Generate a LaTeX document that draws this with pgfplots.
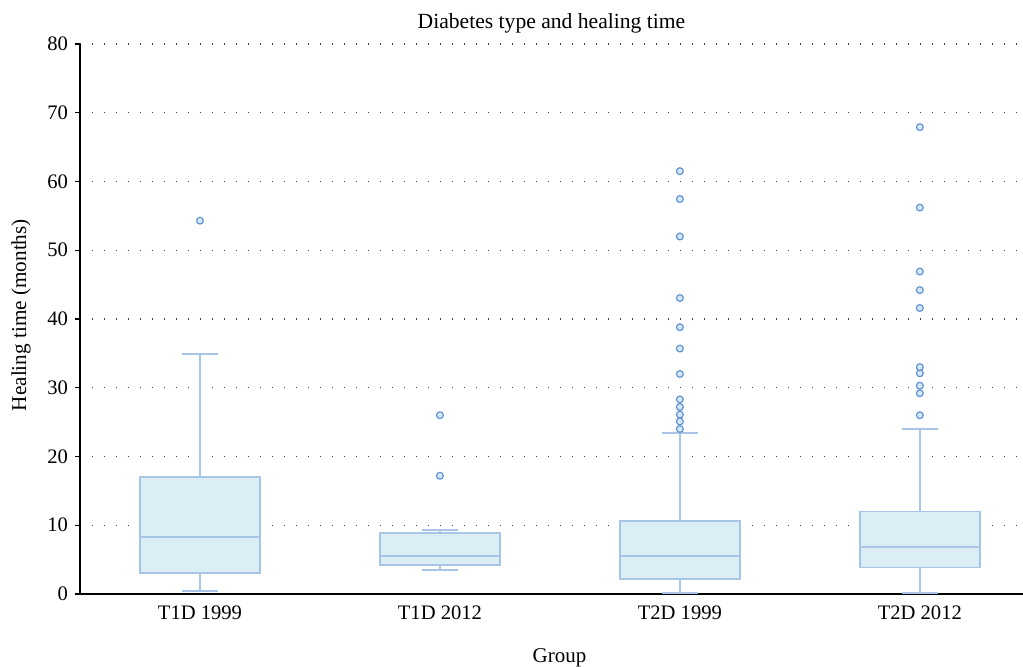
\documentclass[border=0pt]{standalone}
\usepackage{fontspec}
\setmainfont{Liberation Serif}
\usepackage{pgfplots}
\pgfplotsset{compat=1.18}
\usepgfplotslibrary{statistics}
\definecolor{boxedge}{RGB}{168,197,232}
\definecolor{boxfill}{RGB}{219,238,246}
\definecolor{outl}{RGB}{95,148,212}
\definecolor{outfill}{RGB}{214,232,247}

\begin{document}
\begin{tikzpicture}
\useasboundingbox (-40pt,-36.5pt) rectangle (471.5pt,297pt);
\begin{axis}[
  at={(0,0)}, anchor=south west,
  scale only axis, width=471.5pt, height=275pt,
  xmin=-0.5, xmax=3.43, ymin=0, ymax=80,
  axis x line*=bottom, axis y line*=left,
  axis line style={black, line width=0.8pt},
  xtick={0,1,2,3},
  xticklabels={T1D 1999, T1D 2012, T2D 1999, T2D 2012},
  ytick={0,10,...,80},
  x tick style={draw=none},
  y tick style={black, line width=0.6pt},
  tick align=outside, major tick length=2.5pt,
  ymajorgrids,
  grid style={black!75, line width=0.6pt, dash pattern=on 0.6pt off 5.4pt},
  tick label style={font=\fontsize{10.3}{12}\selectfont},
  /pgf/number format/assume math mode=true,
  title={Diabetes type and healing time},
  title style={font=\fontsize{10.8}{12}\selectfont, at={(0.5,1)}, anchor=center, yshift=4.5pt},
  xlabel={Group},
  every axis x label/.style={at={(axis description cs:0.5,0)}, anchor=center,
    xshift=4pt, yshift=-32pt, font=\fontsize{10.5}{12}\selectfont},
  every axis y label/.style={at={(axis description cs:-0.0626,0.507)}, rotate=90,
    anchor=center, font=\fontsize{10.6}{12}\selectfont},
  ylabel={Healing time (months)},
  boxplot/draw direction=y,
  boxplot/every box/.style={draw=boxedge, fill=boxfill, line width=0.8pt},
  boxplot/every whisker/.style={draw=boxedge, line width=0.8pt},
  boxplot/every median/.style={draw=boxedge, line width=0.8pt},
  cycle list={{boxedge}},
  clip=false,
]

% T1D 1999
\addplot[boxplot prepared={draw position=0, box extend=0.5, whisker extend=0.15,
    lower whisker=0.44, lower quartile=3.05, median=8.3,
    upper quartile=17.0, upper whisker=34.9},
  draw=boxedge, fill=boxfill, line width=0.8pt,
  mark=*, mark size=1.7pt, mark options={draw=outl, fill=outfill, line width=0.6pt}]
  coordinates {(0,54.3)};

% T1D 2012
\addplot[boxplot prepared={draw position=1, box extend=0.5, whisker extend=0.15,
    lower whisker=3.5, lower quartile=4.22, median=5.53,
    upper quartile=8.87, upper whisker=9.3},
  draw=boxedge, fill=boxfill, line width=0.8pt,
  mark=*, mark size=1.7pt, mark options={draw=outl, fill=outfill, line width=0.6pt}]
  coordinates {(1,17.2) (1,26.0)};

% T2D 1999
\addplot[boxplot prepared={draw position=2, box extend=0.5, whisker extend=0.15,
    lower whisker=0.15, lower quartile=2.2, median=5.5,
    upper quartile=10.6, upper whisker=23.4},
  draw=boxedge, fill=boxfill, line width=0.8pt,
  mark=*, mark size=1.7pt, mark options={draw=outl, fill=outfill, line width=0.6pt}]
  coordinates {(2,24.0) (2,25.1) (2,26.1) (2,27.2) (2,28.3) (2,32.0)
    (2,35.7) (2,38.8) (2,43.05) (2,52.0) (2,57.45) (2,61.5)};

% T2D 2012
\addplot[boxplot prepared={draw position=3, box extend=0.5, whisker extend=0.15,
    lower whisker=0.15, lower quartile=3.84, median=6.84,
    upper quartile=12.0, upper whisker=24.0},
  draw=boxedge, fill=boxfill, line width=0.8pt,
  mark=*, mark size=1.7pt, mark options={draw=outl, fill=outfill, line width=0.6pt}]
  coordinates {(3,26.0) (3,29.2) (3,30.3) (3,32.1) (3,33.0) (3,41.6)
    (3,44.2) (3,46.9) (3,56.2) (3,67.9)};

\end{axis}
\end{tikzpicture}
\end{document}
